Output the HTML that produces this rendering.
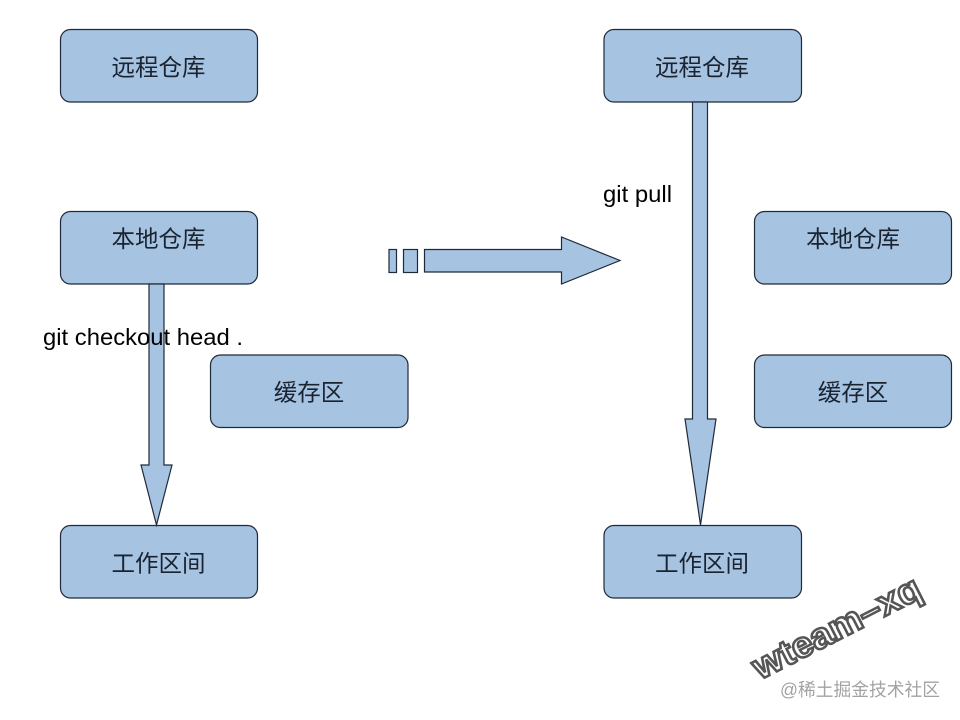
<!DOCTYPE html>
<html>
<head>
<meta charset="utf-8">
<style>
html,body{margin:0;padding:0;background:#fff;}
svg{display:block;}
.c{font-family:"Liberation Sans","Noto Sans CJK SC",sans-serif;font-size:23.500px;fill:#1a2330;text-anchor:middle;}
.t{font-family:"Liberation Sans",sans-serif;font-size:23.500px;fill:#000;}
.s{fill:#a6c3e2;stroke:#1f2a38;stroke-width:1.200;}
</style>
</head>
<body>
<svg width="960" height="720" viewBox="0 0 960 720" xmlns="http://www.w3.org/2000/svg">
<rect width="960" height="720" fill="#fff"/>
<rect class="s" x="60.500" y="29.500" width="197" height="72.500" rx="10"/>
<rect class="s" x="60.500" y="211.500" width="197" height="72.500" rx="10"/>
<rect class="s" x="210.500" y="355" width="197.500" height="72.500" rx="10"/>
<rect class="s" x="60.500" y="525.500" width="197" height="72.500" rx="10"/>
<rect class="s" x="604" y="29.500" width="197.500" height="72.500" rx="10"/>
<rect class="s" x="754.500" y="211.500" width="197" height="72.500" rx="10"/>
<rect class="s" x="754.500" y="355" width="197" height="72.500" rx="10"/>
<rect class="s" x="604" y="525.500" width="197.500" height="72.500" rx="10"/>
<polygon class="s" points="149,284 164,284 164,465 172,465 156.500,525 141,465 149,465"/>
<polygon class="s" points="692.500,102 707.500,102 707.500,419 716,419 700.500,525 685,419 692.500,419"/>
<rect class="s" x="389" y="249.500" width="7.500" height="23"/>
<rect class="s" x="403.500" y="249.500" width="14" height="23"/>
<polygon class="s" points="424.500,249.500 561.500,249.500 561.500,237 620,260.500 561.500,284 561.500,272 424.500,272"/>
<text class="c" x="158.500" y="75.500">远程仓库</text>
<text class="c" x="158.500" y="247">本地仓库</text>
<text class="c" x="309" y="400.500">缓存区</text>
<text class="c" x="158.500" y="571.500">工作区间</text>
<text class="c" x="702" y="75.500">远程仓库</text>
<text class="c" x="853" y="247">本地仓库</text>
<text class="c" x="853" y="400.500">缓存区</text>
<text class="c" x="702" y="571.500">工作区间</text>
<text class="t" x="43" y="345" textLength="200" lengthAdjust="spacingAndGlyphs">git checkout head .</text>
<text class="t" x="603" y="202" textLength="69" lengthAdjust="spacingAndGlyphs">git pull</text>
<text x="0" y="0" transform="translate(760,680) rotate(-27)" font-family="Liberation Sans,sans-serif" font-size="36" font-weight="bold" fill="#fff" stroke="#555" stroke-width="2.500" textLength="184" lengthAdjust="spacingAndGlyphs">wteam–xq</text>
<text x="780" y="696" font-family="Liberation Sans,Noto Sans CJK SC,sans-serif" font-size="18" fill="#a3a3a3" textLength="160" lengthAdjust="spacingAndGlyphs">@稀土掘金技术社区</text>
</svg>
</body>
</html>
